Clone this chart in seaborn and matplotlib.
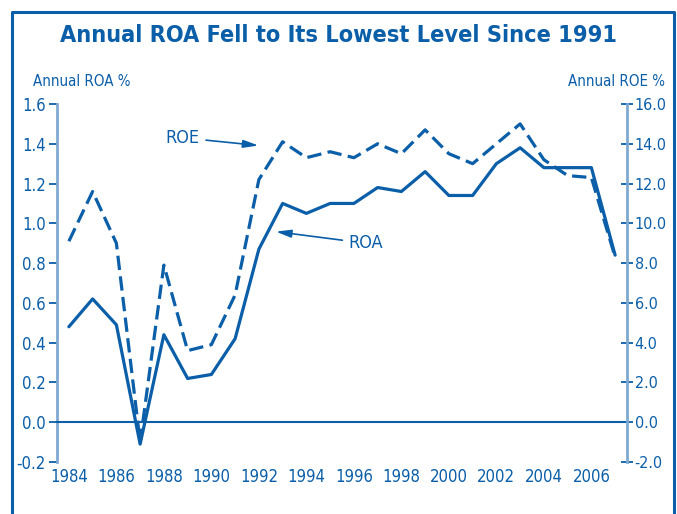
import numpy as np
import pandas as pd
import matplotlib
matplotlib.use("Agg")
import matplotlib.pyplot as plt
import seaborn as sns

years = list(range(1984, 2008))
roa = [0.48, 0.62, 0.49, -0.11, 0.44, 0.22, 0.24, 0.42, 0.87, 1.10, 1.05, 1.10,
       1.10, 1.18, 1.16, 1.26, 1.14, 1.14, 1.30, 1.38, 1.28, 1.28, 1.28, 0.84]
roe = [9.1, 11.6, 9.0, -1.0, 7.9, 3.6, 3.9, 6.4, 12.2, 14.1, 13.3, 13.6,
       13.3, 14.0, 13.5, 14.7, 13.5, 13.0, 14.0, 15.0, 13.2, 12.4, 12.3, 8.3]
year_labels = [str(y) for y in range(1984, 2008, 2)]
left_ticks = [-0.2, 0.0, 0.2, 0.4, 0.6, 0.8, 1.0, 1.2, 1.4, 1.6]
right_ticks = [-2.0, 0.0, 2.0, 4.0, 6.0, 8.0, 10.0, 12.0, 14.0, 16.0]

BLUE = "#0b5ea8"
LIGHT = "#7fa9d2"

sns.set_style("white")
plt.rcParams['font.family'] = ['DejaVu Sans']
plt.rcParams['font.stretch'] = 'condensed'

df = pd.DataFrame({"year": years, "ROA": roa, "ROE": roe})

fig = plt.figure(figsize=(6.77, 5.14), dpi=100)
ax = fig.add_axes([57 / 677, 1 - 462 / 514, 570 / 677, 358 / 514])

sns.lineplot(data=df, x="year", y="ROA", ax=ax, color=BLUE, lw=2.3)
# ROE plotted on the ROA scale (ROE axis = ROA axis x 10)
sns.lineplot(x=df["year"], y=df["ROE"] / 10, ax=ax, color=BLUE, lw=2.3,
             linestyle=(0, (4.5, 2)))

ax.set_xlim(1983.5, 2007.5)
ax.set_ylim(-0.2, 1.6)
ax.set_xlabel("")
ax.set_ylabel("")

# x axis drawn at zero
for s in ["top", "right"]:
    ax.spines[s].set_visible(False)
ax.spines["bottom"].set_position(("data", 0))
ax.spines["bottom"].set_color(BLUE)
ax.spines["bottom"].set_linewidth(1.5)
ax.spines["left"].set_color(LIGHT)
ax.spines["left"].set_linewidth(2)

ax.set_xticks(np.arange(1983.5, 2008, 1), minor=True)
ax.set_xticks(range(1984, 2008, 2))
ax.set_xticklabels(year_labels)
ax.tick_params(axis="x", which="major", length=0, pad=33, labelsize=12, labelcolor=BLUE)
ax.tick_params(axis="x", which="minor", length=9, direction="inout", width=1.3, color=BLUE)

ax.set_yticks(left_ticks)
ax.set_yticklabels([f"{v:.1f}" for v in left_ticks])
ax.tick_params(axis="y", length=6, width=1.3, color=BLUE, labelsize=12, labelcolor=BLUE, pad=2)

ax2 = ax.twinx()
ax2.set_ylim(-2.0, 16.0)
ax2.set_yticks(right_ticks)
ax2.set_yticklabels([f"{v:.1f}" for v in right_ticks])
for s in ["top", "left", "bottom"]:
    ax2.spines[s].set_visible(False)
ax2.spines["right"].set_color(LIGHT)
ax2.spines["right"].set_linewidth(2)
ax2.tick_params(axis="y", length=9, direction="inout", width=1.3, color=BLUE,
                labelsize=11.5, labelcolor=BLUE, pad=1)

fig.text(33 / 677, 1 - 82 / 514, "Annual ROA %", color=BLUE, fontsize=10.8, va="center", ha="left")
fig.text(665 / 677, 1 - 82 / 514, "Annual ROE %", color=BLUE, fontsize=10.8, va="center", ha="right")

fig.text(0.5, 1 - 36 / 514, "Annual ROA Fell to Its Lowest Level Since 1991",
         color=BLUE, fontsize=16.8, fontweight="bold", ha="center", va="center")

arrow = dict(arrowstyle="-|>,head_length=0.7,head_width=0.18", color=BLUE, lw=1.2)
ax.annotate("ROE", xy=(1992.1, 1.39), xytext=(1988.8, 1.43), color=BLUE,
            fontsize=13, ha="center", va="center", arrowprops=arrow)
ax.annotate("ROA", xy=(1992.6, 0.96), xytext=(1996.5, 0.90), color=BLUE,
            fontsize=13, ha="center", va="center", arrowprops=arrow)

# outer frame lines
fig.add_artist(plt.Line2D([12 / 677, 12 / 677, 674 / 677, 674 / 677],
                          [0, 1 - 12 / 514, 1 - 12 / 514, 0],
                          transform=fig.transFigure, color=BLUE, lw=2.2))

fig.savefig("out.png", dpi=100)
